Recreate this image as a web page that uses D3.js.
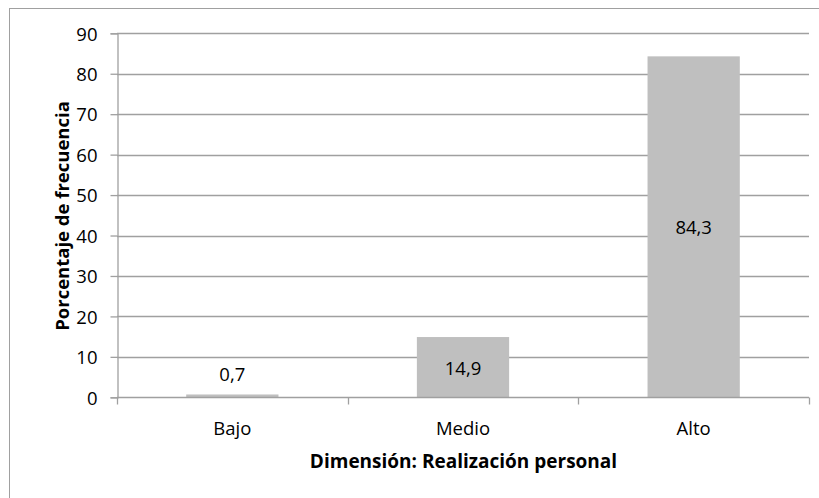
<!DOCTYPE html>
<html>
<head>
<meta charset="utf-8">
<script src="https://cdn.jsdelivr.net/npm/d3@7"></script>
<style>
  html, body { margin: 0; padding: 0; background: #fff; }
  svg { display: block; }
  text { font-family: "Open Sans", "Noto Sans", sans-serif; fill: #000; }
</style>
</head>
<body>
<svg id="chart" width="819" height="498"></svg>
<script>
// Realización personal: porcentaje de frecuencia por nivel
const categories = ["Bajo", "Medio", "Alto"];
const values = [0.7, 14.9, 84.3];
const valueLabels = ["0,7", "14,9", "84,3"];
const yTicks = [0, 10, 20, 30, 40, 50, 60, 70, 80, 90];

const svg = d3.select("#chart");
const W = 819, H = 498;
const m = { left: 117, right: 10, top: 33.3, bottom: 100.7 };
const FS = 18.5;

// outer frame (only left and top edges fall inside the view)
svg.append("rect")
  .attr("x", 9.5).attr("y", 8.5)
  .attr("width", W + 10).attr("height", H + 10)
  .attr("fill", "#fff").attr("stroke", "#a0a0a0").attr("stroke-width", 1);

const x = d3.scaleBand()
  .domain(categories)
  .range([m.left, W - m.right])
  .paddingInner(0.6)
  .paddingOuter(0.3);

const y = d3.scaleLinear()
  .domain([0, 90])
  .range([H - m.bottom, m.top]);

// horizontal gridlines
svg.append("g")
  .selectAll("line")
  .data(yTicks.filter(d => d > 0))
  .join("line")
  .attr("x1", m.left).attr("x2", W - m.right)
  .attr("y1", d => Math.round(y(d)) + 0.5)
  .attr("y2", d => Math.round(y(d)) + 0.5)
  .attr("stroke", "#a0a0a0").attr("stroke-width", 1.3);

// bars
svg.append("g")
  .selectAll("rect")
  .data(values)
  .join("rect")
  .attr("x", (d, i) => x(categories[i]))
  .attr("width", x.bandwidth())
  .attr("y", d => y(d))
  .attr("height", d => y(0) - y(d))
  .attr("fill", "#bfbfbf");

// y axis
const yAxis = svg.append("g")
  .attr("transform", `translate(${m.left + 0.5},0)`)
  .call(d3.axisLeft(y).tickValues(yTicks).tickSize(7).tickPadding(13).tickFormat(d3.format("d")));
yAxis.select(".domain").attr("stroke", "#a0a0a0").attr("stroke-width", 1.3);
yAxis.selectAll(".tick line").attr("stroke", "#a0a0a0").attr("stroke-width", 1.3);
yAxis.selectAll(".tick text")
  .style("font-size", FS + "px").attr("fill", "#000")
  .attr("dy", null).attr("y", 6.7);

// x axis with ticks between categories
const xAxisG = svg.append("g")
  .attr("transform", `translate(0,${Math.round(y(0)) + 0.5})`);
xAxisG.append("line")
  .attr("x1", m.left).attr("x2", W - m.right)
  .attr("stroke", "#a0a0a0").attr("stroke-width", 1.3);
const step = x.step();
const boundaries = d3.range(categories.length + 1).map(i => m.left + i * step);
xAxisG.selectAll("line.tk")
  .data(boundaries)
  .join("line")
  .attr("class", "tk")
  .attr("x1", d => Math.round(d) + 0.5).attr("x2", d => Math.round(d) + 0.5)
  .attr("y1", 0).attr("y2", 7)
  .attr("stroke", "#a0a0a0").attr("stroke-width", 1.3);
xAxisG.selectAll("text")
  .data(categories)
  .join("text")
  .attr("x", d => x(d) + x.bandwidth() / 2)
  .attr("y", 37)
  .attr("text-anchor", "middle")
  .style("font-size", FS + "px")
  .text(d => d);

// value labels: inside the bar when it is tall enough, otherwise above it
svg.append("g")
  .selectAll("text")
  .data(values)
  .join("text")
  .attr("x", (d, i) => x(categories[i]) + x.bandwidth() / 2)
  .attr("y", d => (y(0) - y(d) > 30 ? (y(d) + y(0)) / 2 + 7.5 : y(d) - 13))
  .attr("text-anchor", "middle")
  .style("font-size", FS + "px")
  .text((d, i) => valueLabels[i]);

// axis titles
svg.append("text")
  .attr("x", 463.5)
  .attr("y", 468)
  .attr("text-anchor", "middle")
  .style("font-size", "19px")
  .style("font-weight", "bold")
  .text("Dimensión: Realización personal");

svg.append("text")
  .attr("transform", "translate(69,216) rotate(-90)")
  .attr("text-anchor", "middle")
  .style("font-size", "18.5px")
  .style("font-weight", "bold")
  .text("Porcentaje de frecuencia");
</script>
</body>
</html>
